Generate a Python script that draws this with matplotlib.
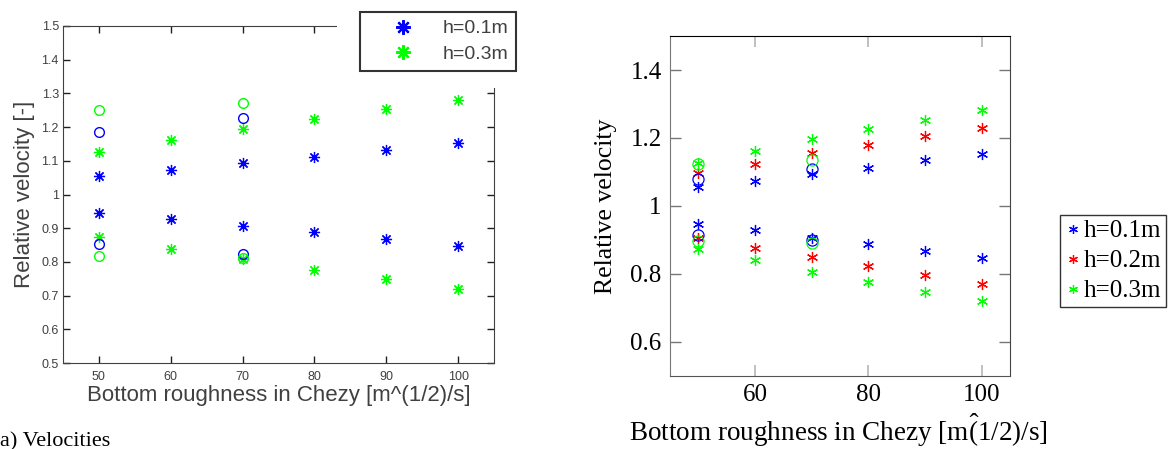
import matplotlib
matplotlib.use('Agg')
import matplotlib.pyplot as plt
from matplotlib.patches import Rectangle

plt.rcParams['mathtext.fontset'] = 'custom'
plt.rcParams['mathtext.rm'] = 'Liberation Serif'
plt.rcParams['mathtext.it'] = 'Liberation Serif:italic'

chezy = [50, 60, 70, 80, 90, 100]
circ_x = [50, 70]

# left panel (MATLAB figure)
l_blue_up = [1.055, 1.072, 1.092, 1.112, 1.132, 1.152]
l_blue_lo = [0.945, 0.928, 0.908, 0.888, 0.868, 0.848]
l_green_up = [1.127, 1.162, 1.193, 1.223, 1.253, 1.280]
l_green_lo = [0.873, 0.838, 0.808, 0.776, 0.748, 0.720]
l_blue_circ_up = [1.185, 1.228]
l_blue_circ_lo = [0.853, 0.823]
l_green_circ_up = [1.252, 1.272]
l_green_circ_lo = [0.818, 0.812]

# right panel (pgfplots figure)
r_blue_up = [1.055, 1.073, 1.093, 1.112, 1.134, 1.154]
r_blue_lo = [0.948, 0.929, 0.906, 0.887, 0.867, 0.847]
r_red_up = [1.098, 1.124, 1.156, 1.180, 1.205, 1.230]
r_red_lo = [0.907, 0.877, 0.849, 0.823, 0.796, 0.771]
r_green_up = [1.127, 1.161, 1.196, 1.225, 1.254, 1.281]
r_green_lo = [0.873, 0.840, 0.807, 0.776, 0.747, 0.721]
r_blue_circ_up = [1.080, 1.108]
r_blue_circ_lo = [0.916, 0.900]
r_green_circ_up = [1.124, 1.135]
r_green_circ_lo = [0.897, 0.892]

labels_left = ['h=0.1m', 'h=0.3m']
labels_right = ['h=0.1m', 'h=0.2m', 'h=0.3m']

W, H = 1174, 449
fig = plt.figure(figsize=(W / 100, H / 100), dpi=100)

# ---------- left ----------
gray = '#404040'
ax1 = fig.add_axes([63 / W, 1 - 363 / H, 431 / W, 337 / H])
star8 = (8, 2, 0)
h1, = ax1.plot(chezy, l_blue_up, ls='none', marker=star8, ms=8, mec='#0000ff', mew=0.9)
ax1.plot(chezy, l_blue_lo, ls='none', marker=star8, ms=8, mec='#0000ff', mew=0.9)
h3, = ax1.plot(chezy, l_green_up, ls='none', marker=star8, ms=8, mec='#00ff00', mew=0.9)
ax1.plot(chezy, l_green_lo, ls='none', marker=star8, ms=8, mec='#00ff00', mew=0.9)
for ys, c in [(l_blue_circ_up, '#0000ff'), (l_blue_circ_lo, '#0000ff'),
              (l_green_circ_up, '#00ff00'), (l_green_circ_lo, '#00ff00')]:
    ax1.plot(circ_x, ys, ls='none', marker='o', ms=7, mfc='none', mec=c, mew=1)
ax1.set_xlim(45, 105)
ax1.set_ylim(0.5, 1.5)
ax1.set_xticks(chezy)
ax1.set_yticks([0.5 + 0.1 * i for i in range(11)])
ax1.set_yticklabels(['0.5', '0.6', '0.7', '0.8', '0.9', '1', '1.1', '1.2', '1.3', '1.4', '1.5'])
ax1.tick_params(direction='in', top=True, right=True, length=5, width=1, colors='#202020',
                labelsize=9, labelcolor=gray, labelfontfamily='Liberation Sans')
ax1.tick_params(axis='x', pad=6)
ax1.tick_params(axis='y', pad=3)
for s in ax1.spines.values():
    s.set_color(gray)
ax1.set_xlabel('Bottom roughness in Chezy [m^(1/2)/s]', fontsize=16, color=gray,
               family='Liberation Sans', labelpad=1)
ax1.set_ylabel('Relative velocity [-]', fontsize=16, color=gray,
               family='Liberation Sans', labelpad=5)

fig.patches.append(Rectangle((337 / W, 1 - 88 / H), 185 / W, 88 / H, transform=fig.transFigure,
                             facecolor='white', edgecolor='none', zorder=5))
leg1 = fig.legend([h1, h3], labels_left, loc='upper left',
                  bbox_to_anchor=(360 / W, 1 - 12 / H), borderaxespad=0,
                  prop={'family': 'Liberation Sans', 'size': 14}, fancybox=False,
                  edgecolor='#333333', framealpha=1, handlelength=3.6, handletextpad=0.25,
                  borderpad=0.4, labelspacing=0.4, markerscale=1.3)
leg1.get_frame().set_linewidth(1.5)
leg1.set_zorder(6)
for t in leg1.get_texts():
    t.set_color(gray)
for lh in leg1.legend_handles:
    lh.set_markeredgewidth(1.6)

fig.text(0, 1 - 446 / H, 'a) Velocities', fontsize=16, family='Liberation Serif', va='baseline')

# ---------- right ----------
ax2 = fig.add_axes([670 / W, 1 - 376 / H, 340 / W, 340 / H])
star6 = (6, 2, 0)
g1, = ax2.plot(chezy, r_blue_up, ls='none', marker=star6, ms=8, mec='#0000ff', mew=0.9)
ax2.plot(chezy, r_blue_lo, ls='none', marker=star6, ms=8, mec='#0000ff', mew=0.9)
g2, = ax2.plot(chezy, r_red_up, ls='none', marker=star6, ms=8, mec='#ff0000', mew=0.9)
ax2.plot(chezy, r_red_lo, ls='none', marker=star6, ms=8, mec='#ff0000', mew=0.9)
g3, = ax2.plot(chezy, r_green_up, ls='none', marker=star6, ms=8, mec='#00ff00', mew=0.9)
ax2.plot(chezy, r_green_lo, ls='none', marker=star6, ms=8, mec='#00ff00', mew=0.9)
for ys, c in [(r_blue_circ_up, '#0000ff'), (r_blue_circ_lo, '#0000ff'),
              (r_green_circ_up, '#00ff00'), (r_green_circ_lo, '#00ff00')]:
    ax2.plot(circ_x, ys, ls='none', marker='o', ms=8, mfc='none', mec=c, mew=0.9)
ax2.set_xlim(45, 105)
ax2.set_ylim(0.5, 1.5)
ax2.set_xticks([60, 80, 100])
ax2.set_yticks([0.6, 0.8, 1.0, 1.2, 1.4])
ax2.set_yticklabels(['0.6', '0.8', '1', '1.2', '1.4'])
ax2.tick_params(axis='x', direction='in', top=True, length=8, width=1.3, color='#bbbbbb',
                labelsize=18, pad=6, labelfontfamily='Liberation Serif')
ax2.tick_params(axis='y', direction='in', right=True, length=8, width=1, color='#777777',
                labelsize=18, pad=6, labelfontfamily='Liberation Serif')
ax2.spines['left'].set_color('#777777')
ax2.spines['bottom'].set_color('#555555')
ax2.spines['right'].set_color('#444444')
ax2.spines['top'].set_color('black')
fig.text(838 / W, 1 - 441 / H, r'Bottom roughness in Chezy [m$\hat{(}$1/2)/s]', fontsize=19.5,
         family='Liberation Serif', ha='center', va='baseline')
ax2.set_ylabel('Relative velocity', fontsize=18.5, family='Liberation Serif', labelpad=10)

leg2 = fig.legend([g1, g2, g3], labels_right, loc='center left',
                  bbox_to_anchor=(1060 / W, 1 - 261 / H), borderaxespad=0,
                  prop={'family': 'Liberation Serif', 'size': 18}, fancybox=False,
                  edgecolor='#333333', framealpha=1, handlelength=0.64, handletextpad=0.1,
                  borderpad=0.2, labelspacing=0.3, markerscale=0.8)
leg2.get_frame().set_linewidth(1)

fig.savefig('out.png', dpi=100)
